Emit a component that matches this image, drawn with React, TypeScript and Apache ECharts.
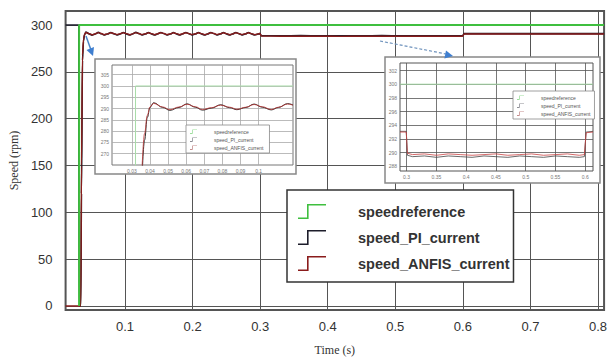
import { useEffect, useRef } from "react";
import * as echarts from "echarts";

// ---- main plot data ----
const SERIES_NAMES = ["speedreference", "speed_PI_current", "speed_ANFIS_current"];

const xTicks = [0.1, 0.2, 0.3, 0.4, 0.5, 0.6, 0.7, 0.8];
const yTicks = [0, 50, 100, 150, 200, 250, 300];

const refTime = [0.032, 0.032, 0.809];
const refSpeed = [0, 300, 300];

const mainTime = [
  0.012, 0.0315, 0.032, 0.0345, 0.0355, 0.037, 0.0385, 0.04,
  0.042, 0.047, 0.051, 0.056, 0.0605, 0.065, 0.069, 0.074,
  0.079, 0.084, 0.088, 0.093, 0.0975, 0.102, 0.107, 0.111,
  0.116, 0.121, 0.125, 0.13, 0.1345, 0.139, 0.144, 0.148,
  0.153, 0.158, 0.162, 0.167, 0.1715, 0.176, 0.181, 0.185,
  0.19, 0.195, 0.199, 0.204, 0.2085, 0.213, 0.218, 0.222,
  0.227, 0.232, 0.236, 0.241, 0.2455, 0.25, 0.255, 0.259,
  0.264, 0.269, 0.273, 0.278, 0.2825, 0.287, 0.292,
  0.2995, 0.302, 0.33, 0.36, 0.39, 0.42, 0.45, 0.48, 0.51, 0.54, 0.57,
  0.5995, 0.602, 0.809,
];

const mainPI = [
  300, 300, 0, 0, 120, 262, 283, 289.5,
  292.4, 290.6, 289.2, 290.5, 292.2, 290.7, 289.3, 290.4,
  292.0, 290.6, 289.4, 290.5, 292.1, 290.6, 289.3, 290.4,
  292.2, 290.7, 289.4, 290.5, 292.0, 290.6, 289.3, 290.5,
  292.1, 290.7, 289.4, 290.4, 292.0, 290.6, 289.3, 290.5,
  292.1, 290.6, 289.4, 290.5, 292.0, 290.6, 289.3, 290.4,
  292.1, 290.7, 289.4, 290.5, 292.0, 290.6, 289.3, 290.4,
  292.1, 290.6, 289.4, 290.5, 292.0, 290.6, 289.4,
  290.8, 288.6, 288.5, 288.7, 288.4, 288.6, 288.5, 288.7, 288.5, 288.6, 288.4,
  288.6, 290.8, 290.8,
];

const mainANFIS = [
  0, 0, 0, 0, 150, 268, 285, 290.0,
  292.0, 290.8, 289.6, 290.7, 291.9, 290.9, 289.7, 290.6,
  291.7, 290.8, 289.8, 290.7, 291.8, 290.8, 289.7, 290.6,
  291.9, 290.9, 289.8, 290.7, 291.7, 290.8, 289.7, 290.7,
  291.8, 290.9, 289.8, 290.6, 291.7, 290.8, 289.7, 290.7,
  291.8, 290.8, 289.8, 290.7, 291.7, 290.8, 289.7, 290.6,
  291.8, 290.9, 289.8, 290.7, 291.7, 290.8, 289.7, 290.6,
  291.8, 290.8, 289.8, 290.7, 291.7, 290.8, 289.8,
  290.9, 288.2, 288.1, 288.0, 288.2, 287.9, 288.1, 288.0, 288.2, 288.0, 288.1,
  288.1, 290.5, 290.5,
];

// ---- inset 1: start-up transient ----
const inset1XTicks = [0.03, 0.04, 0.05, 0.06, 0.07, 0.08, 0.09, 0.1];
const inset1YTicks = [270, 275, 280, 285, 290, 295, 300, 305];
const inset1RefTime = [0.032, 0.032, 0.119];
const inset1RefSpeed = [0, 300, 300];
const inset1Time = [
  0.0355, 0.037, 0.0385, 0.04, 0.042, 0.047, 0.051, 0.056, 0.0605, 0.065, 0.069,
  0.074, 0.079, 0.084, 0.088, 0.093, 0.0975, 0.102, 0.107, 0.111, 0.116, 0.119,
];
const inset1PI = [
  258, 276, 286, 290.5, 292.6, 290.5, 289.2, 290.5, 292.1, 290.6, 289.3,
  290.2, 291.7, 290.4, 289.5, 290.5, 292.0, 290.6, 289.4, 290.5, 292.2, 291.6,
];
const inset1ANFIS = [
  262, 279, 287, 290.8, 292.3, 290.7, 289.5, 290.7, 291.9, 290.8, 289.6,
  290.4, 291.5, 290.6, 289.7, 290.6, 291.8, 290.8, 289.6, 290.6, 292.0, 291.5,
];

// ---- inset 2: load step between 0.3 s and 0.6 s ----
const inset2XTicks = [0.3, 0.35, 0.4, 0.45, 0.5, 0.55, 0.6];
const inset2YTicks = [288, 290, 292, 294, 296, 298, 300, 302];
const inset2RefTime = [0.289, 0.613];
const inset2RefSpeed = [300, 300];
const inset2Time = [
  0.289, 0.2995, 0.3015, 0.31, 0.33, 0.35, 0.37, 0.39, 0.41, 0.43, 0.45,
  0.47, 0.49, 0.51, 0.53, 0.55, 0.57, 0.59, 0.5985, 0.6015, 0.613,
];
const inset2PI = [
  293.1, 293.1, 289.6, 289.4, 289.5, 289.3, 289.5, 289.4, 289.3, 289.5, 289.4,
  289.3, 289.5, 289.4, 289.3, 289.5, 289.4, 289.3, 289.4, 293.0, 293.1,
];
const inset2ANFIS = [
  293.0, 293.0, 289.9, 289.7, 289.8, 289.6, 289.8, 289.7, 289.6, 289.7, 289.8,
  289.6, 289.7, 289.8, 289.6, 289.7, 289.8, 289.6, 289.7, 292.9, 293.0,
];

const zip = (t: number[], v: number[]) => t.map((x, i) => [x, v[i]]);

const GREEN = "#3fbf3f";
const BLACK = "#1d1d2b";
const RED = "#8a1c1c";

// step-shaped legend glyph
const STEP_ICON =
  "path://M0,13.5 L9,13.5 L9,0 L28,0 L28,1.6 L10.6,1.6 L10.6,15 L0,15 Z";

const fmtSmall = (v: number) => String(Number(v.toFixed(2)));

function buildOption(): echarts.EChartsOption {
  const insetLabel = { fontSize: 5, color: "#777", fontFamily: "Liberation Sans", margin: 3 };
  return {
    animation: false,
    backgroundColor: "#fff",
    grid: [
      { left: 63, top: 11, width: 543, height: 299, show: true, borderColor: "#555", borderWidth: 2, backgroundColor: "transparent" },
      { left: 112, top: 65, width: 181, height: 100, show: true, backgroundColor: "#fff", borderColor: "#777", borderWidth: 1, z: 11 },
      { left: 400, top: 63, width: 193, height: 108, show: true, backgroundColor: "#fff", borderColor: "#555", borderWidth: 1, z: 11 },
    ],
    xAxis: [
      {
        type: "value", gridIndex: 0, min: 0.012, max: 0.809,
        axisLine: { show: false },
        axisTick: { show: false, customValues: xTicks },
        axisLabel: { customValues: xTicks, formatter: fmtSmall, fontSize: 13, color: "#333", fontFamily: "Liberation Sans", margin: 10 },
        splitLine: { show: true, lineStyle: { color: "#555", width: 1 } },
        name: "Time (s)", nameLocation: "middle", nameGap: 34,
        nameTextStyle: { fontFamily: "Liberation Serif", fontSize: 12, color: "#333" },
      },
      {
        type: "value", gridIndex: 1, min: 0.019, max: 0.119, z: 12,
        axisLine: { show: false },
        axisTick: { show: false, customValues: inset1XTicks },
        axisLabel: { ...insetLabel, customValues: inset1XTicks, formatter: fmtSmall },
        splitLine: { show: true, lineStyle: { color: "#aaa", width: 0.8 } },
      },
      {
        type: "value", gridIndex: 2, min: 0.289, max: 0.613, z: 12,
        axisLine: { show: false },
        axisTick: { show: false, customValues: inset2XTicks },
        axisLabel: { ...insetLabel, customValues: inset2XTicks, formatter: fmtSmall },
        splitLine: { show: true, lineStyle: { color: "#555", width: 0.8 } },
      },
    ],
    yAxis: [
      {
        type: "value", gridIndex: 0, min: -4.3, max: 315,
        axisLine: { show: false },
        axisTick: { show: false, customValues: yTicks },
        axisLabel: { customValues: yTicks, fontSize: 13, color: "#333", fontFamily: "Liberation Sans", margin: 13 },
        splitLine: { show: true, lineStyle: { color: "#555", width: 1 } },
        name: "Speed (rpm)", nameLocation: "middle", nameGap: 40,
        nameTextStyle: { fontFamily: "Liberation Serif", fontSize: 12, color: "#333" },
      },
      {
        type: "value", gridIndex: 1, min: 265, max: 309.3, z: 12,
        axisLine: { show: false },
        axisTick: { show: false, customValues: inset1YTicks },
        axisLabel: { ...insetLabel, customValues: inset1YTicks },
        splitLine: { show: true, lineStyle: { color: "#aaa", width: 0.8 } },
      },
      {
        type: "value", gridIndex: 2, min: 287.3, max: 303.1, z: 12,
        axisLine: { show: false },
        axisTick: { show: false, customValues: inset2YTicks },
        axisLabel: { ...insetLabel, customValues: inset2YTicks },
        splitLine: { show: true, lineStyle: { color: "#555", width: 0.8 } },
      },
    ],
    legend: [
      {
        left: 287, top: 190, orient: "vertical", selectedMode: false,
        data: SERIES_NAMES, icon: STEP_ICON, itemWidth: 28, itemHeight: 15, itemGap: 11,
        padding: [14, 4, 11, 11],
        textStyle: { fontSize: 14.5, fontWeight: "bold", fontFamily: "Liberation Sans", color: "#333", padding: [0, 0, 0, 27] },
        backgroundColor: "#fff", borderColor: "#333", borderWidth: 1.5, z: 20,
      },
      {
        left: 186, top: 125, orient: "vertical", selectedMode: false,
        data: SERIES_NAMES, icon: STEP_ICON, itemWidth: 7, itemHeight: 5, itemGap: 3,
        padding: [4, 6, 3, 4],
        textStyle: { fontSize: 5, fontFamily: "Liberation Sans", color: "#555", padding: [0, 0, 0, 12] },
        backgroundColor: "#fff", borderColor: "#888", borderWidth: 0.8, z: 14,
      },
      {
        left: 513, top: 91, orient: "vertical", selectedMode: false,
        data: SERIES_NAMES, icon: STEP_ICON, itemWidth: 7, itemHeight: 5, itemGap: 3,
        padding: [4, 4, 3, 4],
        textStyle: { fontSize: 5, fontFamily: "Liberation Sans", color: "#555", padding: [0, 0, 0, 12] },
        backgroundColor: "#fff", borderColor: "#888", borderWidth: 0.8, z: 14,
      },
    ],
    graphic: [
      // inset frames
      { type: "rect", z: 10, shape: { x: 95, y: 59, width: 201, height: 115 }, style: { fill: "#fff", stroke: "#888", lineWidth: 1.5 } },
      { type: "rect", z: 10, shape: { x: 385, y: 57, width: 215, height: 126 }, style: { fill: "#fff", stroke: "#888", lineWidth: 1.5 } },
      // pointer to inset 1
      { type: "line", z: 20, shape: { x1: 86, y1: 36, x2: 91, y2: 50 }, style: { stroke: "#4a86c8", lineWidth: 1.5 } },
      { type: "polygon", z: 20, shape: { points: [[93, 56], [86.5, 49.9], [94, 47.1]] }, style: { fill: "#3f7fd0" } },
      // pointer to inset 2
      { type: "line", z: 20, shape: { x1: 380, y1: 41, x2: 446, y2: 54 }, style: { stroke: "#6f93bd", lineWidth: 1.2, lineDash: [3, 2] } },
      { type: "polygon", z: 20, shape: { points: [[453, 56], [444.4, 58.4], [446, 50.6]] }, style: { fill: "#3f7fd0" } },
    ],
    series: [
      { type: "line", name: SERIES_NAMES[1], xAxisIndex: 0, yAxisIndex: 0, data: zip(mainTime, mainPI), symbol: "none", smooth: 0.3, smoothMonotone: "x", color: BLACK, lineStyle: { color: BLACK, width: 1.6 }, z: 2 },
      { type: "line", name: SERIES_NAMES[2], xAxisIndex: 0, yAxisIndex: 0, data: zip(mainTime, mainANFIS), symbol: "none", smooth: 0.3, smoothMonotone: "x", color: RED, lineStyle: { color: RED, width: 1.4 }, z: 3 },
      { type: "line", name: SERIES_NAMES[0], xAxisIndex: 0, yAxisIndex: 0, data: zip(refTime, refSpeed), symbol: "none", color: GREEN, lineStyle: { color: GREEN, width: 2 }, z: 4 },

      { type: "line", name: SERIES_NAMES[0], xAxisIndex: 1, yAxisIndex: 1, data: zip(inset1RefTime, inset1RefSpeed), symbol: "none", color: GREEN, lineStyle: { color: "#a8dca8", width: 1 }, z: 13 },
      { type: "line", name: SERIES_NAMES[1], xAxisIndex: 1, yAxisIndex: 1, data: zip(inset1Time, inset1PI), symbol: "none", smooth: 0.4, smoothMonotone: "x", color: BLACK, lineStyle: { color: "#333", width: 1 }, z: 13 },
      { type: "line", name: SERIES_NAMES[2], xAxisIndex: 1, yAxisIndex: 1, data: zip(inset1Time, inset1ANFIS), symbol: "none", smooth: 0.4, smoothMonotone: "x", color: RED, lineStyle: { color: "#b33", width: 0.8 }, z: 13 },

      { type: "line", name: SERIES_NAMES[0], xAxisIndex: 2, yAxisIndex: 2, data: zip(inset2RefTime, inset2RefSpeed), symbol: "none", color: GREEN, lineStyle: { color: "#a8dca8", width: 1 }, z: 13 },
      { type: "line", name: SERIES_NAMES[1], xAxisIndex: 2, yAxisIndex: 2, data: zip(inset2Time, inset2PI), symbol: "none", color: BLACK, lineStyle: { color: "#444", width: 0.8 }, z: 13 },
      { type: "line", name: SERIES_NAMES[2], xAxisIndex: 2, yAxisIndex: 2, data: zip(inset2Time, inset2ANFIS), symbol: "none", color: RED, lineStyle: { color: "#c44", width: 0.8 }, z: 13 },
    ],
  };
}

export default function App() {
  const ref = useRef<HTMLDivElement>(null);
  useEffect(() => {
    if (!ref.current) return;
    const chart = echarts.init(ref.current, null, { renderer: "svg" });
    chart.setOption(buildOption());
    return () => chart.dispose();
  }, []);
  return <div ref={ref} style={{ position: "absolute", left: 0, top: 0, width: 610, height: 363 }} />;
}
